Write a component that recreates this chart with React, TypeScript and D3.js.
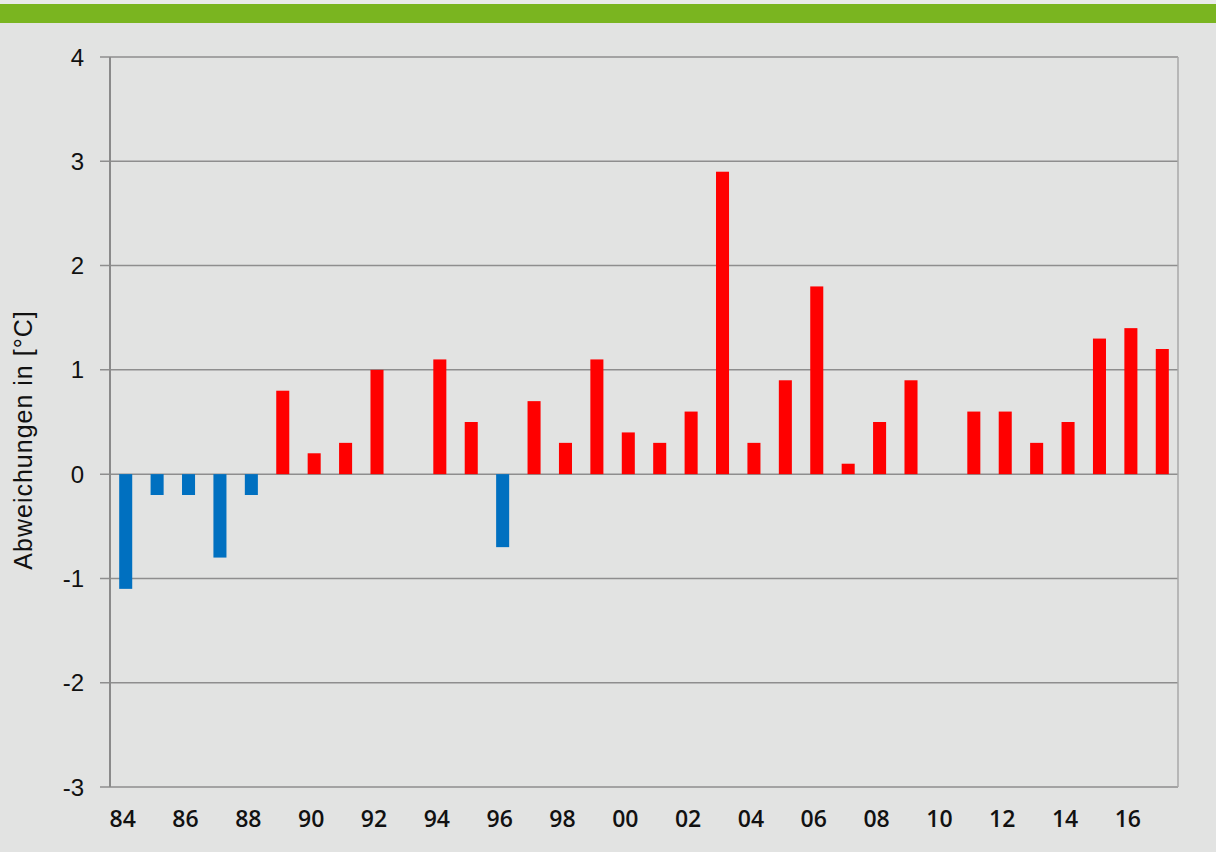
import React from "react";
import * as d3 from "d3";

const years: string[] = [
  "84","85","86","87","88","89","90","91","92","93","94","95","96","97","98","99",
  "00","01","02","03","04","05","06","07","08","09","10","11","12","13","14","15","16","17",
];
const deviations: number[] = [
  -1.1, -0.2, -0.2, -0.8, -0.2, 0.8, 0.2, 0.3, 1.0, 0, 1.1, 0.5, -0.7, 0.7, 0.3, 1.1,
  0.4, 0.3, 0.6, 2.9, 0.3, 0.9, 1.8, 0.1, 0.5, 0.9, 0, 0.6, 0.6, 0.3, 0.5, 1.3, 1.4, 1.2,
];
const yTicks: number[] = [4, 3, 2, 1, 0, -1, -2, -3];
const xTickLabels: string[] = years.filter((_, i) => i % 2 === 0);
const yTitle = "Abweichungen in [°C]";

const W = 1216;
const H = 852;
const left = 110;
const right = 1178;
const top = 57;
const bottom = 787;

export default function App() {
  const x = d3.scaleBand<string>().domain(years).range([left, right]).paddingInner(0.585).paddingOuter(0.2925);
  const y = d3.scaleLinear().domain([-3, 4]).range([bottom, top]);
  const font = "'Liberation Sans', Arial, sans-serif";
  const xFont = "'Open Sans', 'Liberation Sans', sans-serif";
  return (
    <svg width={W} height={H} style={{ position: "absolute", left: 0, top: 0 }}>
      <rect x={0} y={0} width={W} height={H} fill="#e2e3e2" />
      <rect x={0} y={0} width={W} height={4} fill="#e9eae9" />
      <rect x={0} y={4} width={W} height={19} fill="#7ab520" />
      {yTicks.map((t) => (
        <g key={t}>
          <line x1={100} x2={right} y1={y(t)} y2={y(t)} stroke="#8e8e8e" strokeWidth={1.5} />
          <text x={84} y={y(t)} dy="0.36em" textAnchor="end" fontFamily={font} fontSize={24} fill="#111">
            {t}
          </text>
        </g>
      ))}
      <line x1={right} x2={right} y1={top} y2={bottom} stroke="#a8a8a8" strokeWidth={1.5} />
      {years.map((yr, i) => {
        const v = deviations[i];
        if (v === 0) return null;
        return (
          <rect
            key={yr}
            x={x(yr)!}
            width={x.bandwidth()}
            y={y(Math.max(0, v))}
            height={Math.abs(y(v) - y(0))}
            fill={v < 0 ? "#0070c0" : "#ff0000"}
          />
        );
      })}
      <line x1={left} x2={left} y1={top} y2={bottom} stroke="#8a8a8a" strokeWidth={2} />
      {xTickLabels.map((lab) => (
        <text
          key={lab}
          x={x(lab)! + x.bandwidth() / 2 - 3}
          y={827}
          textAnchor="middle"
          fontFamily={xFont}
          fontWeight={600}
          fontSize={23}
          fill="#111"
        >
          {lab}
        </text>
      ))}
      <text
        transform={`translate(32,440) rotate(-90)`}
        textAnchor="middle"
        fontFamily={font}
        fontSize={25}
        letterSpacing={1}
        fill="#111"
      >
        {yTitle}
      </text>
    </svg>
  );
}
